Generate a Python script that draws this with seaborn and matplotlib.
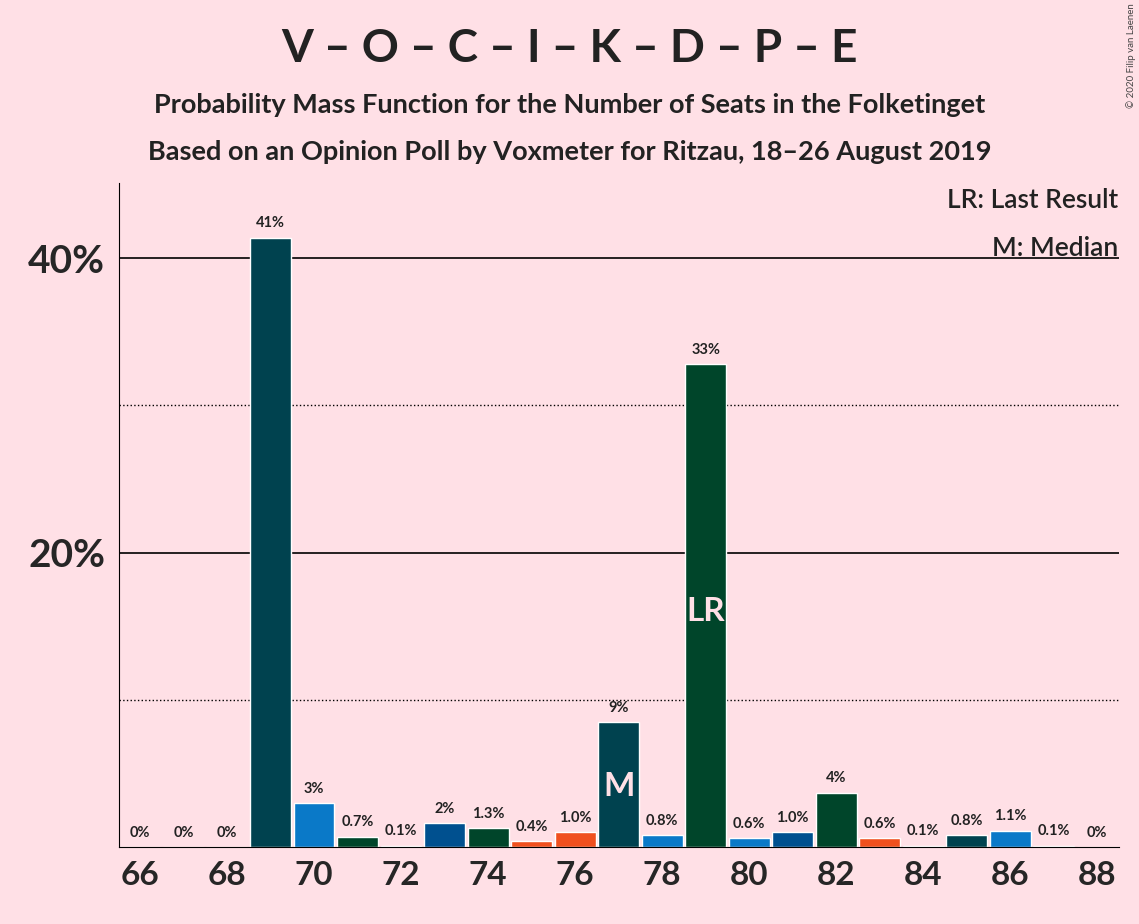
import matplotlib
matplotlib.use("Agg")
import matplotlib.pyplot as plt
import seaborn as sns
import pandas as pd

seats = list(range(66, 89))
probs = [0, 0, 0, 41.4, 3.0, 0.7, 0.1, 1.6, 1.3, 0.4, 1.0, 8.5, 0.8, 32.8, 0.6, 1.0, 3.7, 0.6, 0.1, 0.8, 1.1, 0.1, 0]
labels = ["0%", "0%", "0%", "41%", "3%", "0.7%", "0.1%", "2%", "1.3%", "0.4%", "1.0%", "9%", "0.8%", "33%",
          "0.6%", "1.0%", "4%", "0.6%", "0.1%", "0.8%", "1.1%", "0.1%", "0%"]
TEAL, BLUE, GREEN, RED, NAVY = "#00424f", "#0a79c8", "#00452a", "#f0501e", "#00508f"
colors = [TEAL, BLUE, GREEN, TEAL, BLUE, GREEN, TEAL, NAVY, GREEN, RED, RED, TEAL, BLUE, GREEN,
          BLUE, NAVY, GREEN, RED, TEAL, TEAL, BLUE, TEAL, TEAL]

sns.set_style("white")
plt.rcParams['font.family'] = ['Lato', 'DejaVu Sans']
bg = "#ffe0e6"
fig = plt.figure(figsize=(11.39, 9.24), dpi=100, facecolor=bg)
ax = fig.add_axes([0.1045, 0.0833, 0.878, 0.7186], facecolor=bg)

df = pd.DataFrame({"seat": seats, "p": probs})
for y, ls in [(10, ":"), (30, ":"), (20, "-"), (40, "-")]:
    ax.axhline(y, color="black", lw=1.2 if ls == "-" else 1, ls=ls, zorder=0)
sns.barplot(data=df, x="seat", y="p", hue="seat", palette=dict(zip(seats, colors)),
            native_scale=True, width=0.94, legend=False, ax=ax, saturation=1, zorder=2)
for s, p, l in zip(seats, probs, labels):
    ax.text(s, p + 0.5, l, ha="center", va="bottom", fontsize=10.5, fontweight="bold", color="#222222")
ax.text(77, 4.1, "M", ha="center", va="center", fontsize=24, color="#ffe0e6", fontweight="bold")
ax.text(79, 16.0, "LR", ha="center", va="center", fontsize=24, color="#ffe0e6", fontweight="bold")

ax.set_xlim(65.52, 88.5)
ax.set_ylim(0, 45.1)
ax.set_xticks(range(66, 89, 2))
ax.set_xticklabels([str(v) for v in range(66, 89, 2)], fontsize=24, fontweight="bold")
ax.set_yticks([20, 40])
ax.set_yticklabels(["20%", "40%"], fontsize=28, fontweight="bold")
ax.set_xlabel("")
ax.set_ylabel("")
ax.tick_params(length=0, pad=10)
for sp in ["top", "right"]:
    ax.spines[sp].set_visible(False)
ax.spines["left"].set_color("black")
ax.spines["bottom"].set_color("black")

fig.text(0.5, 0.947, "V – O – C – I – K – D – P – E", ha="center", va="center", fontsize=33, fontweight="bold", color="#222222")
fig.text(0.5, 0.886, "Probability Mass Function for the Number of Seats in the Folketinget", ha="center", va="center", fontsize=19.5, fontweight="bold", color="#222222")
fig.text(0.5, 0.835, "Based on an Opinion Poll by Voxmeter for Ritzau, 18–26 August 2019", ha="center", va="center", fontsize=19.5, fontweight="bold", color="#222222")
fig.text(0.982, 0.783, "LR: Last Result", ha="right", va="center", fontsize=19, fontweight="semibold", color="#222222")
fig.text(0.982, 0.731, "M: Median", ha="right", va="center", fontsize=19, fontweight="semibold", color="#222222")
fig.text(0.993, 0.94, "© 2020 Filip van Laenen", ha="center", va="center", fontsize=7, rotation=90, color="#444444")
fig.savefig("out.png", dpi=100, facecolor=bg)
